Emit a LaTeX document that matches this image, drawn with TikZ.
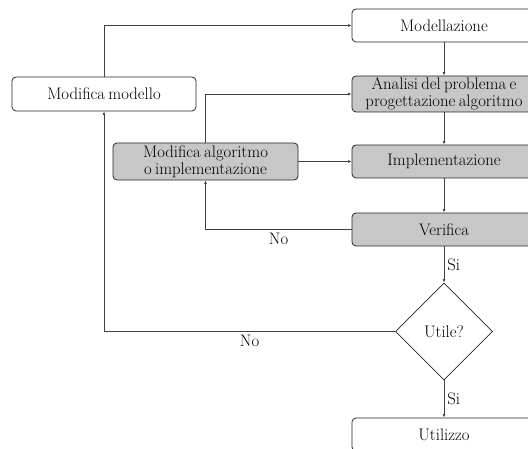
\documentclass[tikz,border=0pt]{standalone}
\usetikzlibrary{shapes.geometric,arrows.meta}
\newcommand\mytightspace{\spaceskip=0.2em\relax}
\begin{document}
\begin{tikzpicture}[x=1pt,y=-1pt, font={\fontsize{16.7}{16.7}\selectfont\mytightspace},
 box/.style={draw=black!85, rounded corners=4pt, minimum width=184pt, minimum height=33pt, align=center, inner sep=2pt, line width=0.8pt},
 gbox/.style={box, fill=black!22},
 dec/.style={diamond, draw=black!85, minimum width=97pt, minimum height=97pt, aspect=1, inner sep=0pt, line width=0.8pt},
 conn/.style={draw=black!75, line width=0.8pt, -{Latex[length=3.5pt,width=2.8pt]}},
 lab/.style={inner sep=3pt}]
\useasboundingbox (0,0) rectangle (528,449);
\node[box] (mod) at (444,25.5) {Modellazione};
\node[gbox, minimum height=36pt] (ana) at (444,94) {Analisi del problema e\\progettazione algoritmo};
\node[gbox] (imp) at (444,161.5) {Implementazione};
\node[gbox] (ver) at (444,229.5) {Verifica};
\node[dec] (ut) at (444,331.5) {Utile?};
\node[box] (uti) at (444,434.5) {Utilizzo};
\node[box, minimum height=34pt] (mm) at (104,94) {Modifica modello};
\node[gbox, minimum width=185pt, minimum height=37pt] (ma) at (205.5,161.5) {Modifica algoritmo\\o implementazione};
\draw[conn] (mm.north) |- (mod.west);
\draw[conn] (mod) -- (ana);
\draw[conn] (ana) -- (imp);
\draw[conn] (ma.north) |- (ana.west);
\draw[conn] (ma) -- (imp);
\draw[conn] (imp) -- (ver);
\draw[conn] (ver.west) -| node[lab, pos=0.25, below] {No} (ma.south);
\draw[conn] (ver) -- node[lab, right] {Si} (ut);
\draw[conn] (ut.west) -| node[lab, pos=0.25, below] {No} (mm.south);
\draw[conn] (ut) -- node[lab, right] {Si} (uti);
\end{tikzpicture}
\end{document}
